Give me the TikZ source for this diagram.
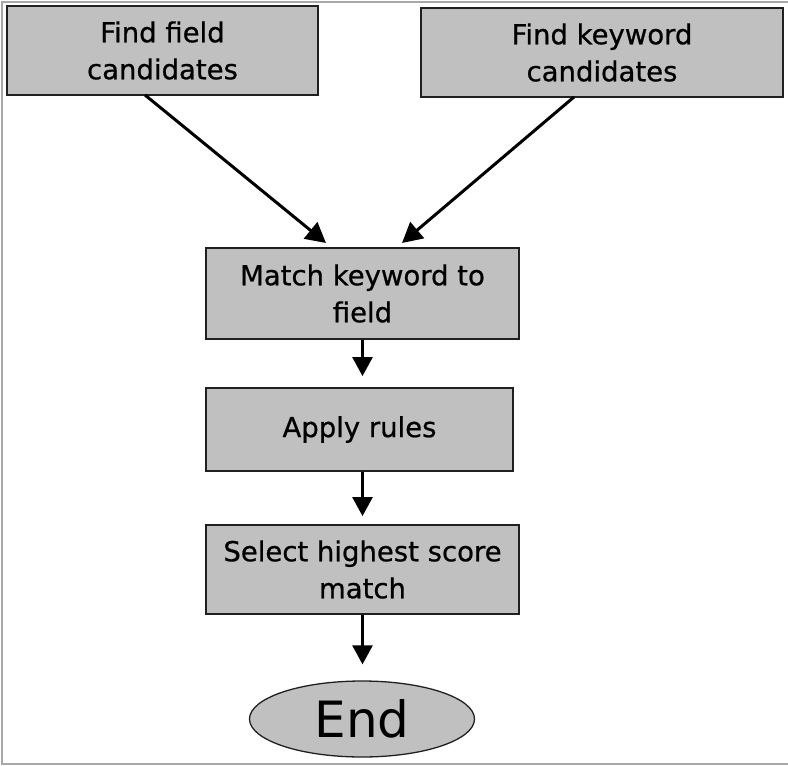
\documentclass[tikz,border=0pt]{standalone}
\usepackage{fontspec}
\setmainfont{DejaVu Sans}
\newfontfamily\heavyfont{DejaVu Sans}[FakeBold=0.7]
\usetikzlibrary{arrows.meta,shapes.geometric}
\definecolor{boxfill}{HTML}{C0C0C0}
\definecolor{boxline}{HTML}{202020}
\definecolor{framegray}{HTML}{A8A8A8}
\tikzset{
  stepbox/.style={draw=boxline, line width=1.8pt, fill=boxfill, rectangle,
    align=center, inner sep=0pt, text=black,
    font=\heavyfont\fontsize{27.5}{37}\selectfont},
  endnode/.style={draw=boxline, line width=1.3pt, fill=boxfill, ellipse,
    inner sep=0pt, minimum width=225pt, minimum height=76pt,
    font=\fontsize{50}{56}\selectfont},
  flow/.style={-{Triangle[length=20pt,width=21pt]}, line width=3pt, black},
  vflow/.style={-{Triangle[length=19pt,width=20pt]}, line width=2.5pt, black}
}
\begin{document}
\begin{tikzpicture}[x=1pt,y=-1pt]
\useasboundingbox (0,0) rectangle (788,766);
\fill[white] (0,0) rectangle (788,766);
\draw[framegray, line width=2pt] (788,1.5) -- (1.5,1.5) -- (1.5,763.5) -- (788,763.5);

\node[stepbox, minimum width=311pt, minimum height=89pt] (b1) at (162.5,50.5) {Find field\\candidates};
\node[stepbox, minimum width=362pt, minimum height=89pt] (b2) at (602,52.5) {Find keyword\\candidates};
\node[stepbox, minimum width=313pt, minimum height=91pt] (b3) at (362.5,293.5) {Match keyword to\\field};
\node[stepbox, minimum width=307pt, minimum height=83pt] (b4) at (359.5,429.5) {Apply rules};
\node[stepbox, minimum width=313pt, minimum height=89pt] (b5) at (362.5,569.5) {Select highest score\\match};
\node[endnode] (e) at (362,719) {End};

\coordinate (s1) at (145,95);
\coordinate (t1) at (326,243);
\coordinate (s2) at (574,97);
\coordinate (t2) at (402,243);

\draw[flow] (s1) -- (t1);
\draw[flow] (s2) -- (t2);
\draw[vflow, shorten >=11pt] (b3.south) -- (b3.south |- b4.north);
\draw[vflow, shorten >=8pt] (b3.south |- b4.south) -- (b3.south |- b5.north);
\draw[vflow, shorten >=16pt] (b5.south) -- (b5.south |- e.north);
\end{tikzpicture}
\end{document}
